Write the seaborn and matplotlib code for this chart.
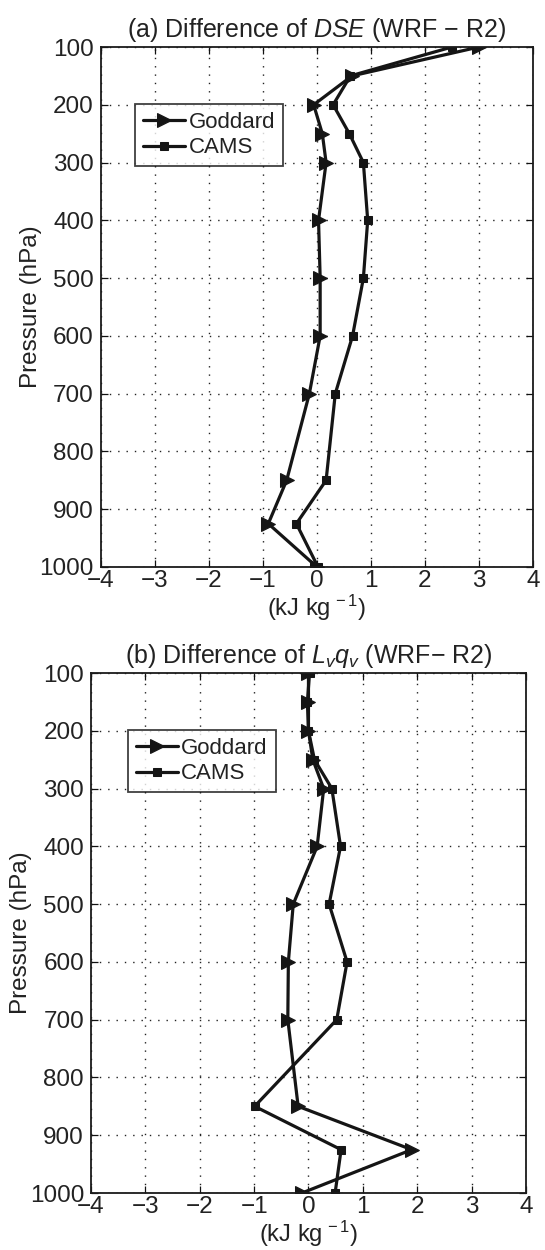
import numpy as np
import pandas as pd
import matplotlib
matplotlib.use("Agg")
import matplotlib.pyplot as plt
import seaborn as sns

sns.set_theme(style="ticks")
plt.rcParams['font.family'] = ['Liberation Sans', 'DejaVu Sans']
plt.rcParams['mathtext.fontset'] = 'custom'
plt.rcParams['mathtext.rm'] = 'Liberation Sans'
plt.rcParams['mathtext.it'] = 'Liberation Sans:italic'

pressure = [100, 150, 200, 250, 300, 400, 500, 600, 700, 850, 925, 1000]

dse_goddard = [3.0, 0.65, -0.06, 0.1, 0.17, 0.03, 0.06, 0.06, -0.14, -0.56, -0.9, 0.0]
dse_cams = [2.5, 0.62, 0.3, 0.6, 0.86, 0.94, 0.86, 0.66, 0.34, 0.17, -0.38, 0.02]

lq_goddard = [0.0, 0.0, 0.0, 0.08, 0.28, 0.16, -0.28, -0.37, -0.38, -0.19, 1.9, -0.12]
lq_cams = [0.02, -0.02, 0.0, 0.11, 0.43, 0.59, 0.38, 0.71, 0.52, -0.99, 0.6, 0.49]

series_names = ["Goddard", "CAMS"]
xticks = [-4, -3, -2, -1, 0, 1, 2, 3, 4]
yticks = [100, 200, 300, 400, 500, 600, 700, 800, 900, 1000]

titles = [r"(a) Difference of $\mathit{DSE}$ (WRF $-$ R2)",
          r"(b) Difference of $\mathit{L_v q_v}$ (WRF$-$ R2)"]

fig = plt.figure(figsize=(5.45, 12.5), dpi=100)
axA = fig.add_axes([0.185, 0.5464, 0.793, 0.416])
axB = fig.add_axes([0.167, 0.0456, 0.798, 0.416])

panels = [(axA, dse_goddard, dse_cams, 0.89, 0.08),
          (axB, lq_goddard, lq_cams, 0.89, 0.085)]

for i, (ax, g, c, ly, lx) in enumerate(panels):
    df = pd.DataFrame({
        "value": g + c,
        "pressure": pressure + pressure,
        "series": [series_names[0]] * len(g) + [series_names[1]] * len(c),
    })
    for name, mk, ms in [("Goddard", ">", 9.5), ("CAMS", "s", 6)]:
        sub = df[df.series == name]
        sns.lineplot(data=sub, x="value", y="pressure", sort=False, estimator=None,
                     ax=ax, color="#151515", lw=2.3, marker=mk, markersize=ms,
                     markerfacecolor="#151515", markeredgecolor="#151515",
                     label=name)
    ax.set_xlim(-4, 4)
    ax.set_ylim(1000, 100)
    ax.set_xticks(xticks)
    ax.set_yticks(yticks)
    ax.set_xticklabels([str(t).replace("-", "\u2212") for t in xticks])
    ax.grid(True, linestyle=(0, (1, 5)), color="#222222", linewidth=1.0)
    ax.tick_params(direction="in", top=True, right=True, labelsize=17.5,
                   length=5, width=0.9, colors="#111111", labelcolor="#222222")
    ax.tick_params(axis="x", pad=2)
    ax.tick_params(axis="y", pad=5)
    for sp in ax.spines.values():
        sp.set_linewidth(1.3)
        sp.set_color("#1a1a1a")
    ax.set_xlabel(r"(kJ kg$^{\,-1}$)", fontsize=17, labelpad=1, color="#222222")
    ax.set_ylabel("Pressure (hPa)", fontsize=17.5, labelpad=-2, color="#222222")
    ax.set_title(titles[i], fontsize=18, pad=7, color="#222222")
    leg = ax.legend(loc="upper left", bbox_to_anchor=(lx, ly), fontsize=16,
                    frameon=True, fancybox=False, edgecolor="#111111",
                    handlelength=1.9, handletextpad=0.15, borderpad=0.35,
                    labelspacing=0.2, borderaxespad=0)
    leg.get_frame().set_linewidth(1.3)
    for t in leg.get_texts():
        t.set_color("#222222")

fig.savefig("out.png", dpi=100)
